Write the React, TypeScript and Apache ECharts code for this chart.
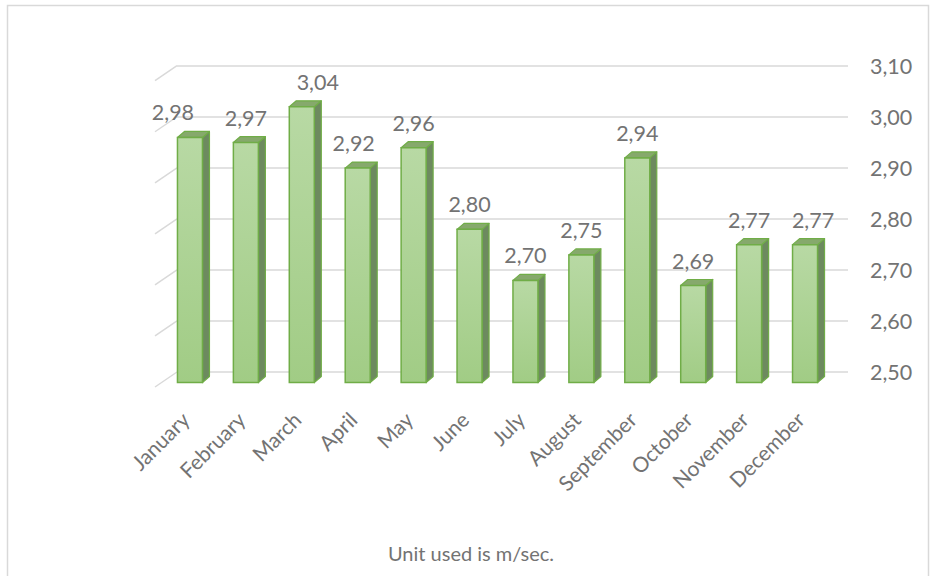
import React, { useEffect, useRef } from 'react';
import * as echarts from 'echarts';

// ---- data ----
const months = ['January', 'February', 'March', 'April', 'May', 'June', 'July', 'August', 'September', 'October', 'November', 'December'];
const windSpeed = [2.98, 2.97, 3.04, 2.92, 2.96, 2.8, 2.7, 2.75, 2.94, 2.69, 2.77, 2.77];
const yTicks = [2.5, 2.6, 2.7, 2.8, 2.9, 3.0, 3.1];
const yMin = 2.5;
const yMax = 3.1;
const yStep = 0.1;
const unitNote = 'Unit used is m/sec.';

// ---- styling ----
const FONT = 'Lato, "Open Sans", sans-serif';
const TEXT = '#737373';
const GRID_LINE = '#d9d9d9';
const EDGE = '#70ad47';
const labelNudgeX = [-17, 0, 16, -4, 0, 0, 0, 0, 0, 0, 0, 8];

const fmt = (v: number) => v.toFixed(2).replace('.', ',');

export default function App() {
  const ref = useRef<HTMLDivElement>(null);
  useEffect(() => {
    if (!ref.current) return;
    const chart = echarts.init(ref.current, undefined, { renderer: 'svg' });
    const option: any = {
      animation: false,
      backgroundColor: '#ffffff',
      grid: [
        { left: 177, right: 86, top: 65.7, bottom: 204 },
        { left: 162, right: 101, top: 76.2, bottom: 193.5 },
      ],
      xAxis: [
        { type: 'category', gridIndex: 0, data: months, show: false },
        {
          type: 'category',
          gridIndex: 1,
          data: months,
          axisLine: { show: false },
          axisTick: { show: false },
          axisLabel: {
            interval: 0,
            rotate: 45,
            margin: 28,
            padding: [0, 7, 0, 0],
            color: TEXT,
            fontFamily: FONT,
            fontSize: 21,
          },
        },
      ],
      yAxis: [
        {
          type: 'value',
          gridIndex: 0,
          position: 'right',
          min: yMin,
          max: yMax,
          interval: yStep,
          axisLine: { show: false },
          axisTick: { show: false },
          splitLine: { lineStyle: { color: GRID_LINE, width: 1.5 } },
          axisLabel: { margin: 22, color: TEXT, fontFamily: FONT, fontSize: 21.5, formatter: (v: number) => fmt(v) },
        },
        { type: 'value', gridIndex: 1, min: yMin, max: yMax, interval: yStep, show: false },
      ],
      series: [
        {
          type: 'custom',
          xAxisIndex: 0,
          yAxisIndex: 0,
          silent: true,
          data: yTicks.map((v) => [0, v]),
          renderItem: (params: any, api: any) => {
            const p = api.coord([0, api.value(1)]);
            const x = p[0] - api.size([1, 0])[0] / 2;
            return {
              type: 'line',
              shape: { x1: x, y1: p[1], x2: x - 22, y2: p[1] + 15 },
              style: { stroke: GRID_LINE, lineWidth: 1.5 },
            };
          },
        },
        {
          type: 'custom',
          xAxisIndex: 1,
          yAxisIndex: 1,
          data: windSpeed.map((v, i) => [i, v]),
          renderItem: (params: any, api: any) => {
            const i = api.value(0);
            const v = api.value(1);
            const top = api.coord([i, v]);
            const base = api.coord([i, yMin]);
            const cx = top[0];
            const ty = top[1];
            const by = base[1];
            const hw = 12.5;
            const dx = 7;
            const dy = 6;
            return {
              type: 'group',
              children: [
                {
                  type: 'polygon',
                  shape: { points: [[cx + hw, ty], [cx + hw + dx, ty - dy], [cx + hw + dx, by - dy], [cx + hw, by]] },
                  style: { fill: '#6d8a5f', stroke: EDGE, lineWidth: 1.2, lineJoin: 'round' },
                },
                {
                  type: 'polygon',
                  shape: { points: [[cx - hw, ty], [cx + hw, ty], [cx + hw + dx, ty - dy], [cx - hw + dx, ty - dy]] },
                  style: { fill: '#86a96c', stroke: EDGE, lineWidth: 1.2, lineJoin: 'round' },
                },
                {
                  type: 'rect',
                  shape: { x: cx - hw, y: ty, width: hw * 2, height: by - ty },
                  style: {
                    fill: new echarts.graphic.LinearGradient(0, 0, 0, 1, [
                      { offset: 0, color: '#b8d9a4' },
                      { offset: 1, color: '#a1cc85' },
                    ]),
                    stroke: EDGE,
                    lineWidth: 1.5,
                  },
                },
                {
                  type: 'text',
                  style: {
                    text: fmt(v),
                    x: cx + labelNudgeX[i],
                    y: ty - dy - 19,
                    textAlign: 'center',
                    textVerticalAlign: 'middle',
                    fill: TEXT,
                    font: `21.5px ${FONT}`,
                  },
                },
              ],
            };
          },
        },
      ],
      graphic: [
        {
          type: 'rect',
          left: 5,
          top: 3,
          shape: { x: 0, y: 0, width: 921, height: 590 },
          style: { fill: 'none', stroke: GRID_LINE, lineWidth: 1.5 },
          silent: true,
        },
        {
          type: 'text',
          x: 471,
          y: 553,
          style: {
            text: unitNote,
            textAlign: 'center',
            textVerticalAlign: 'middle',
            fill: TEXT,
            font: `20px ${FONT}`,
          },
        },
      ],
    };
    chart.setOption(option);
    return () => chart.dispose();
  }, []);
  return <div ref={ref} style={{ position: 'absolute', left: 0, top: 0, width: 934, height: 576 }} />;
}
